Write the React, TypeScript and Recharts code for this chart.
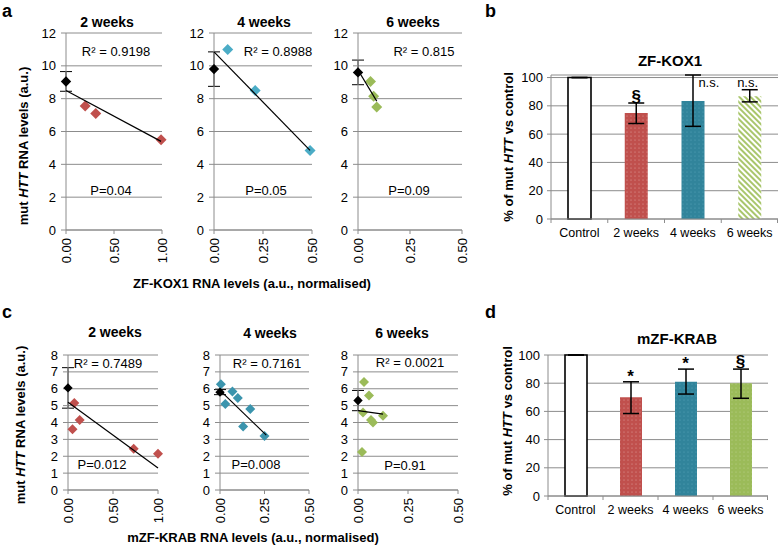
import React from 'react';
import { ComposedChart, Scatter, XAxis, YAxis, CartesianGrid, ErrorBar, Bar, Cell } from 'recharts';

const FONT = '"Liberation Sans", Arial, Helvetica, sans-serif';
const GRID = '#8c8c8c';
const RED = '#c0504d';
const BLUE_A = '#4bacc6';
const BLUE_C = '#3b94ad';
const GREEN = '#9bbb59';
const TEAL = '#31849b';

// ---------- Panel a : ZF-KOX1 scatter ----------
const aTitles = ['2 weeks', '4 weeks', '6 weeks'];
const aR2 = ['R² = 0.9198', 'R² = 0.8988', 'R² = 0.815'];
const aP = ['P=0.04', 'P=0.05', 'P=0.09'];
const aYTicks = [0, 2, 4, 6, 8, 10, 12];
const a2X = [0.2, 0.31, 0.99];
const a2Y = [7.55, 7.1, 5.5];
const a4X = [0.07, 0.21, 0.49];
const a4Y = [11.0, 8.5, 4.85];
const a6X = [0.06, 0.075, 0.09];
const a6Y = [9.05, 8.15, 7.5];
const aCtrlY = [9.05, 9.8, 9.6];
const aCtrlErr = [0.6, 1.05, 0.75];
const a2TrendX = [0, 0.99];
const a2TrendY = [8.5, 5.4];
const a4TrendX = [0, 0.49];
const a4TrendY = [10.85, 4.85];
const a6TrendX = [0, 0.09];
const a6TrendY = [9.75, 7.85];

// ---------- Panel c : mZF-KRAB scatter ----------
const cR2 = ['R² = 0.7489', 'R² = 0.7161', 'R² = 0.0021'];
const cP = ['P=0.012', 'P=0.008', 'P=0.91'];
const cYTicks = [0, 1, 2, 3, 4, 5, 6, 7, 8];
const c2X = [0.07, 0.05, 0.13, 0.73, 1.0];
const c2Y = [5.15, 3.6, 4.15, 2.45, 2.15];
const c4X = [0.005, 0.03, 0.07, 0.1, 0.17, 0.13, 0.25];
const c4Y = [6.27, 5.1, 5.84, 5.45, 4.8, 3.76, 3.2];
const c6X = [0.03, 0.055, 0.025, 0.065, 0.075, 0.125, 0.02];
const c6Y = [6.4, 5.6, 4.6, 4.15, 4.0, 4.4, 2.25];
const cCtrlY = [6.05, 5.8, 5.3];
const cCtrlErr = [1.2, 0.15, 0.6];
const c2TrendX = [0, 1.0];
const c2TrendY = [5.2, 1.3];
const c4TrendX = [0, 0.26];
const c4TrendY = [5.9, 3.25];
const c6TrendX = [0, 0.125];
const c6TrendY = [4.7, 4.5];

// ---------- Panels b & d : bar charts ----------
const barCats = ['Control', '2 weeks', '4 weeks', '6 weeks'];
const barYTicks = [0, 20, 40, 60, 80, 100];
const bValues = [100, 75, 83.5, 86.8];
const bErrLo = [0, 7.5, 18, 4];
const bErrHi = [0, 7, 18.3, 4.6];
const bAnnText = ['', '§', 'n.s.', 'n.s.'];
const bAnnY = [null, 87, 96.7, 96.7];
const bAnnDx = [0, 0, 16, -2];
const dValues = [100, 70, 81, 80];
const dErrLo = [0, 11.5, 8.7, 10.7];
const dErrHi = [0, 11, 9, 10];
const dAnnText = ['', '*', '*', '§'];
const dAnnY = [null, 85, 94, 95.7];
const dAnnDx = [0, 0, 0, 0];

const zip = (xs: number[], ys: number[]) => xs.map((x, i) => ({ x, y: ys[i] }));

const diamond = (fill: string, r: number) => (p: any) => {
  const { cx, cy } = p;
  if (cx == null || cy == null || isNaN(cx) || isNaN(cy)) return <g />;
  return <polygon points={`${cx},${cy - r} ${cx + r},${cy} ${cx},${cy + r} ${cx - r},${cy}`} fill={fill} />;
};

const RotTick = (props: any) => {
  const { x, y, payload } = props;
  return (
    <g>
      <line x1={x} y1={y} x2={x} y2={y + 4} stroke={GRID} />
      <text x={0} y={0} transform={`translate(${x},${y + 8}) rotate(-90)`} textAnchor="end" dy="0.35em" fontSize={13} fill="#000">
        {Number(payload.value).toFixed(2)}
      </text>
    </g>
  );
};

const YW = 40, XH = 44, MT = 12, MR = 14;

function ScatterPanel(props: any) {
  const { box, xMax, xTicks, yMax, yTicks, xs, ys, color, ctrlY, ctrlErr, tx, ty, r } = props;
  const [x0, y0, x1, y1] = box;
  const width = x1 - x0 + YW + MR;
  const height = y1 - y0 + XH + MT;
  const pts = zip(xs, ys);
  const trend = zip(tx, ty);
  const ctrl = [{ x: 0, y: ctrlY, err: ctrlErr }];
  return (
    <div style={{ position: 'absolute', left: x0 - YW, top: y0 - MT }}>
      <ComposedChart width={width} height={height} margin={{ top: MT, right: MR, bottom: 0, left: 0 }}>
        <CartesianGrid vertical={false} stroke={GRID} />
        <XAxis type="number" dataKey="x" domain={[0, xMax]} ticks={xTicks} interval={0} height={XH}
          axisLine={{ stroke: GRID }} tickLine={false} tickSize={0} tickMargin={0} tick={<RotTick />} />
        <YAxis type="number" dataKey="y" domain={[0, yMax]} ticks={yTicks} interval={0} width={YW}
          axisLine={{ stroke: GRID }} tickLine={{ stroke: GRID }} tickSize={5} tickMargin={5} tick={{ fontSize: 13, fill: '#000' }} />
        <Scatter data={pts} shape={diamond(color, r)} isAnimationActive={false} />
        <Scatter data={trend} line={{ stroke: '#000', strokeWidth: 1.2 }} shape={() => <g />} isAnimationActive={false} />
        <Scatter data={ctrl} shape={diamond('#000', r - 0.3)} isAnimationActive={false}>
          <ErrorBar dataKey="err" direction="y" width={6} stroke="#000" strokeWidth={1} />
        </Scatter>
      </ComposedChart>
    </div>
  );
}

const BYW = 45, BXH = 30, BMT = 12;

function BarPanel(props: any) {
  const { box, values, errLo, errHi, fills, annText, annY, annDx, barSize } = props;
  const [x0, y0, x1, y1] = box;
  const width = x1 - x0 + BYW;
  const height = y1 - y0 + BXH + BMT;
  const band = (x1 - x0) / barCats.length;
  const rows = barCats.map((c, i) => ({ cat: c, v: values[i], e: [errLo[i], errHi[i]], ann: annY[i], txt: annText[i], dx: annDx[i] }));
  const CatTick = (p: any) => {
    const { x, y, payload, index } = p;
    return (
      <g>
        <line x1={x - band / 2} y1={y} x2={x - band / 2} y2={y + 4} stroke={GRID} />
        {index === barCats.length - 1 && <line x1={x + band / 2 - 0.5} y1={y} x2={x + band / 2 - 0.5} y2={y + 4} stroke={GRID} />}
        <text x={x} y={y + 14} textAnchor="middle" dy="0.35em" fontSize={12.5} fill="#000">{payload.value}</text>
      </g>
    );
  };
  const AnnShape = (p: any) => {
    const { cx, cy, payload } = p;
    if (!payload || !payload.txt || cx == null || cy == null || isNaN(cy)) return <g />;
    const big = payload.txt !== 'n.s.';
    return (
      <text x={cx + payload.dx} y={cy} textAnchor="middle" dy="0.35em" fontSize={big ? 17 : 13} fontWeight={big ? 'bold' : 'normal'} fill="#000">
        {payload.txt}
      </text>
    );
  };
  return (
    <div style={{ position: 'absolute', left: x0 - BYW, top: y0 - BMT }}>
      <ComposedChart width={width} height={height} data={rows} margin={{ top: BMT, right: 0, bottom: 0, left: 0 }}>
        <CartesianGrid vertical={false} stroke={GRID} />
        <XAxis dataKey="cat" type="category" height={BXH} axisLine={{ stroke: GRID }} tickLine={false} tickSize={0} tickMargin={0} interval={0} tick={<CatTick />} />
        <YAxis type="number" domain={[0, 100]} ticks={barYTicks} interval={0} width={BYW}
          axisLine={{ stroke: GRID }} tickLine={{ stroke: GRID }} tickSize={4} tickMargin={4} tick={{ fontSize: 13, fill: '#000' }} />
        <Bar dataKey="v" barSize={barSize} isAnimationActive={false}>
          {rows.map((r, i) => (
            <Cell key={i} fill={fills[i]} stroke={i === 0 ? '#000' : 'none'} strokeWidth={i === 0 ? 1.6 : 0} />
          ))}
          <ErrorBar dataKey="e" direction="y" width={8} stroke="#000" strokeWidth={1.5} />
        </Bar>
        <Scatter dataKey="ann" shape={AnnShape} isAnimationActive={false} />
      </ComposedChart>
    </div>
  );
}

function T(props: any) {
  const { x, y, size = 13, bold = false, rot = false, children } = props;
  return (
    <div style={{
      position: 'absolute', left: x, top: y,
      transform: `translate(-50%,-50%)${rot ? ' rotate(-90deg)' : ''}`,
      fontSize: size, fontWeight: bold ? 'bold' : 'normal', whiteSpace: 'nowrap', lineHeight: 1, color: '#000',
    }}>{children}</div>
  );
}

function Letter(props: any) {
  const { x, y, children } = props;
  return (
    <div style={{ position: 'absolute', left: x, top: y, fontSize: 18, fontWeight: 'bold', lineHeight: '12px', color: '#000' }}>
      {children}
    </div>
  );
}

function Patterns() {
  return (
    <svg width={0} height={0} style={{ position: 'absolute' }}>
      <defs>
        <pattern id="dotRed" width="4" height="4" patternUnits="userSpaceOnUse">
          <rect width="4" height="4" fill={RED} />
          <circle cx="1" cy="1" r="0.55" fill="#e3a3a1" />
        </pattern>
        <pattern id="dotTeal" width="4" height="4" patternUnits="userSpaceOnUse">
          <rect width="4" height="4" fill={TEAL} />
          <circle cx="1" cy="1" r="0.5" fill="#5ea9be" />
        </pattern>
        <pattern id="dotGreen" width="4" height="4" patternUnits="userSpaceOnUse">
          <rect width="4" height="4" fill={GREEN} />
          <circle cx="1" cy="1" r="0.5" fill="#c3d89a" />
        </pattern>
        <pattern id="stripeGreen" width="4" height="4" patternUnits="userSpaceOnUse" patternTransform="rotate(-45)">
          <rect width="4" height="4" fill="#ffffff" />
          <rect width="2" height="4" fill="#a9c66c" />
        </pattern>
      </defs>
    </svg>
  );
}

export default function App() {
  return (
    <div style={{ position: 'absolute', left: 0, top: 0, width: 778, height: 546, overflow: 'hidden', background: '#fff', fontFamily: FONT }}>
      <Patterns />
      {/* panel a */}
      <ScatterPanel box={[66, 33, 162, 230]} xMax={1} xTicks={[0, 0.5, 1]} yMax={12} yTicks={aYTicks}
        xs={a2X} ys={a2Y} color={RED} ctrlY={aCtrlY[0]} ctrlErr={aCtrlErr[0]} tx={a2TrendX} ty={a2TrendY} r={5.5} />
      <ScatterPanel box={[214, 33, 312, 230]} xMax={0.5} xTicks={[0, 0.25, 0.5]} yMax={12} yTicks={aYTicks}
        xs={a4X} ys={a4Y} color={BLUE_A} ctrlY={aCtrlY[1]} ctrlErr={aCtrlErr[1]} tx={a4TrendX} ty={a4TrendY} r={5.5} />
      <ScatterPanel box={[358, 33, 462, 230]} xMax={0.5} xTicks={[0, 0.25, 0.5]} yMax={12} yTicks={aYTicks}
        xs={a6X} ys={a6Y} color={GREEN} ctrlY={aCtrlY[2]} ctrlErr={aCtrlErr[2]} tx={a6TrendX} ty={a6TrendY} r={5.5} />
      {/* panel c */}
      <ScatterPanel box={[68, 355, 158, 490]} xMax={1} xTicks={[0, 0.5, 1]} yMax={8} yTicks={cYTicks}
        xs={c2X} ys={c2Y} color={RED} ctrlY={cCtrlY[0]} ctrlErr={cCtrlErr[0]} tx={c2TrendX} ty={c2TrendY} r={5} />
      <ScatterPanel box={[220, 355, 309, 490]} xMax={0.5} xTicks={[0, 0.25, 0.5]} yMax={8} yTicks={cYTicks}
        xs={c4X} ys={c4Y} color={BLUE_C} ctrlY={cCtrlY[1]} ctrlErr={cCtrlErr[1]} tx={c4TrendX} ty={c4TrendY} r={5} />
      <ScatterPanel box={[358, 355, 458, 490]} xMax={0.5} xTicks={[0, 0.25, 0.5]} yMax={8} yTicks={cYTicks}
        xs={c6X} ys={c6Y} color={GREEN} ctrlY={cCtrlY[2]} ctrlErr={cCtrlErr[2]} tx={c6TrendX} ty={c6TrendY} r={5} />
      {/* panel b & d */}
      <BarPanel box={[551, 75, 778, 219]} values={bValues} errLo={bErrLo} errHi={bErrHi}
        fills={['#ffffff', 'url(#dotRed)', 'url(#dotTeal)', 'url(#stripeGreen)']} annText={bAnnText} annY={bAnnY} annDx={bAnnDx} barSize={23} />
      <BarPanel box={[548, 355, 768, 496]} values={dValues} errLo={dErrLo} errHi={dErrHi}
        fills={['#ffffff', 'url(#dotRed)', 'url(#dotTeal)', 'url(#dotGreen)']} annText={dAnnText} annY={dAnnY} annDx={dAnnDx} barSize={22} />

      {/* panel letters */}
      <Letter x={2} y={4.5}>a</Letter>
      <Letter x={485} y={4.5}>b</Letter>
      <Letter x={2} y={305.5}>c</Letter>
      <Letter x={485} y={305.5}>d</Letter>

      {/* panel a texts */}
      <T x={107} y={22} size={14} bold>{aTitles[0]}</T>
      <T x={264} y={22} size={14} bold>{aTitles[1]}</T>
      <T x={413} y={22} size={14} bold>{aTitles[2]}</T>
      <T x={116} y={51}>{aR2[0]}</T>
      <T x={278} y={51}>{aR2[1]}</T>
      <T x={424} y={51}>{aR2[2]}</T>
      <T x={111} y={190}>{aP[0]}</T>
      <T x={266} y={190}>{aP[1]}</T>
      <T x={409} y={190}>{aP[2]}</T>
      <T x={252} y={283} bold>ZF-KOX1 RNA levels (a.u., normalised)</T>
      <T x={23} y={146} bold rot>mut <i>HTT</i> RNA levels (a.u.)</T>

      {/* panel c texts */}
      <T x={115} y={332} size={14} bold>{aTitles[0]}</T>
      <T x={270} y={333} size={14} bold>{aTitles[1]}</T>
      <T x={402} y={333} size={14} bold>{aTitles[2]}</T>
      <T x={108} y={363}>{cR2[0]}</T>
      <T x={267} y={363}>{cR2[1]}</T>
      <T x={410} y={362}>{cR2[2]}</T>
      <T x={102} y={464}>{cP[0]}</T>
      <T x={256} y={464}>{cP[1]}</T>
      <T x={405} y={465}>{cP[2]}</T>
      <T x={253} y={537} bold>mZF-KRAB RNA levels (a.u., normalised)</T>
      <T x={20} y={425} bold rot>mut <i>HTT</i> RNA levels (a.u.)</T>

      {/* panel b, d texts */}
      <T x={670} y={60} size={15} bold>ZF-KOX1</T>
      <T x={508} y={147} bold rot>% of mut <i>HTT</i> vs control</T>
      <T x={677} y={338} size={15} bold>mZF-KRAB</T>
      <T x={507} y={421} bold rot>% of mut <i>HTT</i> vs control</T>
    </div>
  );
}
